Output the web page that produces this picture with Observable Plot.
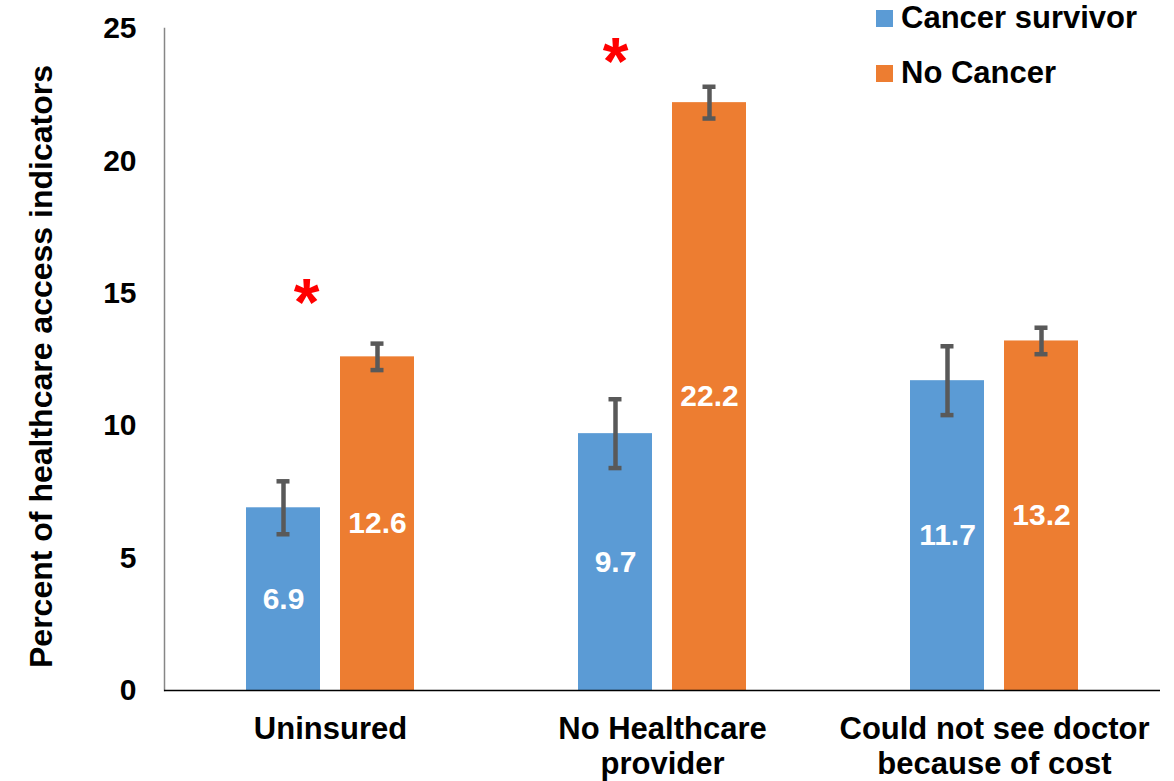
<!DOCTYPE html>
<html>
<head>
<meta charset="utf-8">
<script src="https://cdn.jsdelivr.net/npm/d3@7"></script>
<script src="https://cdn.jsdelivr.net/npm/@observablehq/plot@0.6"></script>
<style>
  html, body { margin: 0; padding: 0; background: #fff; }
  #wrap { position: relative; width: 1174px; height: 781px; font-family: "Liberation Sans", Arial, sans-serif; }
  .legend { position: absolute; left: 876px; top: 0; font-weight: bold; font-size: 31px; color: #000; }
  .legend div { display: flex; align-items: center; height: 36px; margin-bottom: 19px; }
  .legend span.sw { display: inline-block; width: 17px; height: 17px; margin-right: 8px; }
</style>
</head>
<body>
<div id="wrap"></div>
<script>
const categories = ["Uninsured", "No Healthcare\nprovider", "Could not see doctor\nbecause of cost"];
const series = ["Cancer survivor", "No Cancer"];
const colors = ["#5B9BD5", "#ED7D31"];
const survivorValues = [6.9, 9.7, 11.7];
const noCancerValues = [12.6, 22.2, 13.2];
const survivorLow = [5.9, 8.4, 10.4];
const survivorHigh = [7.9, 11.0, 13.0];
const noCancerLow = [12.1, 21.6, 12.7];
const noCancerHigh = [13.1, 22.8, 13.7];
const significant = [true, true, false];
const asteriskLevel = [15.0, 24.1, null];
const yTicks = [0, 5, 10, 15, 20, 25];

const rows = [];
categories.forEach((c, i) => {
  rows.push({cat: c, series: series[0], value: survivorValues[i], lo: survivorLow[i], hi: survivorHigh[i]});
  rows.push({cat: c, series: series[1], value: noCancerValues[i], lo: noCancerLow[i], hi: noCancerHigh[i]});
});
const stars = categories.map((c, i) => ({cat: c, series: series[0], y: asteriskLevel[i], sig: significant[i]})).filter(d => d.sig);

const font = "Liberation Sans, Arial, sans-serif";
const chart = Plot.plot({
  width: 1174,
  height: 781,
  marginLeft: 163,
  marginRight: 14,
  marginTop: 28,
  marginBottom: 91,
  style: {fontFamily: font, fontWeight: "bold", color: "#000", background: "#fff"},
  fx: {domain: categories, padding: 0, label: null},
  x: {domain: series, paddingInner: 0.213, paddingOuter: 0.87, axis: null},
  y: {domain: [0, 25], ticks: yTicks, label: null},
  color: {domain: series, range: colors},
  marks: [
    Plot.frame({anchor: "left", stroke: "#868686", strokeWidth: 1.5, facetAnchor: "left"}),
    Plot.axisY({ticks: yTicks, tickSize: 0, tickPadding: 28, fontSize: 30, fontWeight: "bold", label: null, facetAnchor: "left"}),
    Plot.text(["Percent of healthcare access indicators"], {
      frameAnchor: "left", textAnchor: "middle", lineAnchor: "middle", rotate: -90, dx: -123, dy: 7, fontSize: 32, fontWeight: "bold", facetAnchor: "left", fill: "#000"
    }),
    Plot.axisFx({anchor: "bottom", tickSize: 0, tickPadding: 23, fontSize: 31, fontWeight: "bold", lineHeight: 1.15, label: null}),
    Plot.barY(rows, {fx: "cat", x: "series", y: "value", fill: "series"}),
    Plot.ruleY([0], {stroke: "#000", strokeWidth: 1.5}),
    Plot.ruleX(rows, {fx: "cat", x: "series", y1: "lo", y2: "hi", stroke: "#595959", strokeWidth: 4.5}),
    Plot.tickY(rows, {fx: "cat", x: "series", y: "lo", stroke: "#595959", strokeWidth: 4.5, insetLeft: 30.5, insetRight: 30.5}),
    Plot.tickY(rows, {fx: "cat", x: "series", y: "hi", stroke: "#595959", strokeWidth: 4.5, insetLeft: 30.5, insetRight: 30.5}),
    Plot.text(rows, {fx: "cat", x: "series", y: d => d.value / 2, text: d => d.value.toFixed(1), fill: "#fff", fontSize: 30, fontWeight: "bold"}),
    Plot.text(stars.filter(d => d.cat === categories[0]), {fx: "cat", x: "series", y: "y", text: () => "*", fill: "#FF0000", fontSize: 66, fontWeight: "bold", dx: 23, dy: 11}),
    Plot.text(stars.filter(d => d.cat === categories[1]), {fx: "cat", x: "series", y: "y", text: () => "*", fill: "#FF0000", fontSize: 66, fontWeight: "bold", dx: 0, dy: 11})
  ]
});
const wrap = document.getElementById("wrap");
wrap.appendChild(chart);
const legend = document.createElement("div");
legend.className = "legend";
series.forEach((s, i) => {
  const row = document.createElement("div");
  const sw = document.createElement("span");
  sw.className = "sw";
  sw.style.background = colors[i];
  row.appendChild(sw);
  row.appendChild(document.createTextNode(s));
  legend.appendChild(row);
});
wrap.appendChild(legend);
</script>
</body>
</html>
